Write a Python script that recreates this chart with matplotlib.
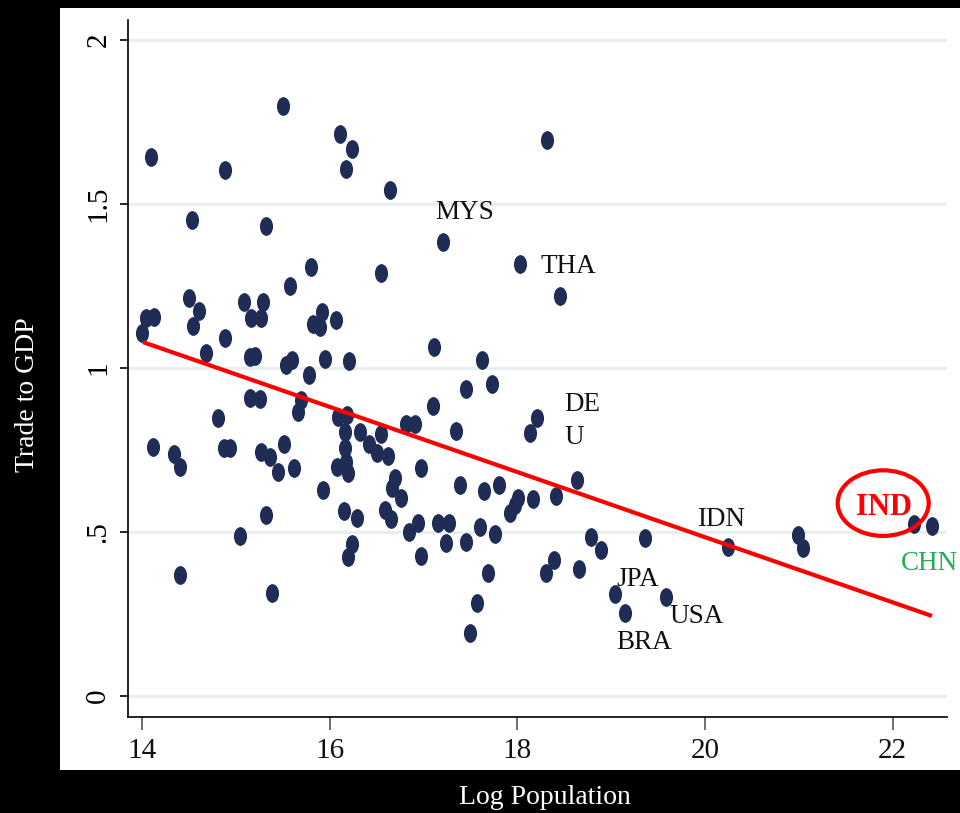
import numpy as np
import matplotlib
matplotlib.use("Agg")
import matplotlib.pyplot as plt
from matplotlib.path import Path
from matplotlib.patches import Ellipse, Rectangle

plt.rcParams['font.family'] = ['Liberation Serif', 'DejaVu Serif']

# log population (x) and trade/GDP (y)
log_pop = [
    15.50, 14.10, 14.885, 16.111, 16.239, 16.175, 18.318, 16.644, 14.533, 15.322,
    17.209, 15.802, 18.030, 16.548, 18.456, 15.578, 14.501, 14.608, 14.043, 14.128,
    14.000, 14.544, 15.087, 15.290, 15.162, 15.269, 15.919, 15.823, 15.898, 16.068,
    14.885, 14.682, 15.151, 15.205, 15.535, 15.599, 15.780, 15.951, 16.207, 17.113,
    17.625, 17.731, 17.454, 15.151, 15.258, 15.695, 15.663, 14.810, 17.102, 16.090,
    16.186, 16.164, 16.164, 16.175, 16.079, 16.196, 16.324, 16.420, 16.505, 16.548,
    16.623, 16.814, 16.910, 17.348, 16.974, 16.697, 16.665, 16.761, 15.930, 17.390,
    16.154, 16.292, 16.591, 16.655, 16.942, 16.846, 17.156, 17.273, 17.241, 17.454,
    17.604, 16.239, 16.196, 16.974, 18.211, 18.136, 17.646, 17.806, 18.009, 17.977,
    17.923, 18.168, 18.414, 18.638, 17.763, 18.787, 18.894, 18.392, 18.307, 18.659,
    17.689, 17.571, 17.497, 14.117, 14.341, 14.405, 14.874, 14.938, 15.269, 15.365,
    15.514, 15.450, 15.620, 15.322, 15.045, 14.405, 15.386, 19.043, 19.149, 19.586,
    19.363, 20.248, 20.994, 21.047, 22.230, 22.422,
]
trade_gdp = [
    1.799, 1.643, 1.604, 1.713, 1.668, 1.607, 1.695, 1.543, 1.451, 1.433,
    1.384, 1.308, 1.317, 1.290, 1.220, 1.250, 1.213, 1.174, 1.152, 1.155,
    1.107, 1.128, 1.201, 1.201, 1.152, 1.152, 1.171, 1.134, 1.125, 1.146,
    1.091, 1.046, 1.034, 1.037, 1.009, 1.024, 0.979, 1.027, 1.021, 1.064,
    1.024, 0.951, 0.936, 0.909, 0.905, 0.902, 0.866, 0.848, 0.884, 0.851,
    0.857, 0.805, 0.756, 0.713, 0.698, 0.680, 0.805, 0.768, 0.741, 0.799,
    0.732, 0.829, 0.829, 0.808, 0.695, 0.665, 0.634, 0.604, 0.628, 0.643,
    0.564, 0.543, 0.567, 0.540, 0.527, 0.500, 0.527, 0.527, 0.466, 0.470,
    0.515, 0.463, 0.424, 0.427, 0.848, 0.802, 0.625, 0.643, 0.604, 0.582,
    0.558, 0.601, 0.610, 0.659, 0.494, 0.485, 0.445, 0.415, 0.375, 0.387,
    0.375, 0.284, 0.192, 0.759, 0.738, 0.698, 0.756, 0.756, 0.744, 0.729,
    0.768, 0.683, 0.695, 0.552, 0.488, 0.369, 0.314, 0.311, 0.253, 0.302,
    0.482, 0.454, 0.491, 0.451, 0.524, 0.518,
]

# fitted line end points
fit_x = [14.01, 22.42]
fit_y = [1.079, 0.244]

# country labels: text, x, y
labels = ['MYS', 'THA', 'DE\nU', 'IDN', 'JPA', 'USA', 'BRA']
label_x = [17.44, 18.54, 18.50, 20.17, 19.28, 19.91, 19.35]
label_y = [1.473, 1.308, 0.838, 0.537, 0.354, 0.241, 0.162]

x_ticks = [14, 16, 18, 20, 22]
y_ticks = [0, 0.5, 1, 1.5, 2]
y_ticklabels = ['0', '.5', '1', '1.5', '2']

W, H = 960, 813
fig = plt.figure(figsize=(W / 100, H / 100), dpi=100, facecolor='black')
# white panel behind the plot
panel = Rectangle((60 / W, 1 - 770 / H), 900 / W, 762 / H,
                  transform=fig.transFigure, facecolor='white',
                  edgecolor='none', zorder=-10)
fig.patches.append(panel)

ax = fig.add_axes([128 / W, 1 - 717 / H, (947 - 128) / W, (717 - 20) / H])
ax.set_facecolor('white')
ax.set_zorder(1)

# tall oval marker like Stata
circ = Path.unit_circle()
oval = Path(circ.vertices * np.array([0.70, 1.0]), circ.codes)

ax.plot(log_pop, trade_gdp, linestyle='none', marker=oval, markersize=13.5,
        color='#1f2d56', markeredgewidth=0, zorder=3)
ax.plot(fit_x, fit_y, color='#ff0000', linewidth=3, zorder=4, solid_capstyle='butt')

for t, x, y in zip(labels, label_x, label_y):
    ax.text(x, y, t, fontsize=19.5, color='#111111', ha='left' if '\n' in t else 'center',
            va='center', linespacing=1.45, zorder=5)

ax.text(21.91, 0.575, 'IND', fontsize=22, color='#ff0000', fontweight='bold',
        ha='center', va='center', zorder=5)
ax.add_patch(Ellipse((21.90, 0.588), 0.97, 0.20, fill=False, edgecolor='#ff0000',
                     linewidth=3, zorder=5))
ax.text(22.09, 0.405, 'CHN', fontsize=19.5, color='#1fae55', ha='left', va='center',
        clip_on=False, zorder=5)

ax.set_xlim(13.85, 22.58)
ax.set_ylim(-0.064, 2.061)
ax.set_xticks(x_ticks)
ax.set_xticklabels([str(v) for v in x_ticks])
ax.set_yticks(y_ticks)
ax.set_yticklabels(y_ticklabels, rotation=90, va='center')

for v in y_ticks:
    ax.axhline(v, color='#e8eff1', linewidth=2.2, zorder=1)

for s in ['top', 'right']:
    ax.spines[s].set_visible(False)
ax.spines['left'].set_linewidth(1.2)
ax.spines['bottom'].set_linewidth(1.2)
ax.tick_params(axis='y', length=6, width=1.2, pad=6, labelsize=21, colors='black')
ax.tick_params(axis='x', length=9, width=1.2, pad=6, labelsize=21, colors='#111111')
ax.tick_params(axis='x', color='#555555')

fig.text(28 / W, 1 - 395 / H, 'Trade to GDP', rotation=90, color='white',
         fontsize=20, ha='center', va='center')
fig.text(545 / W, 1 - 797 / H, 'Log Population', color='white',
         fontsize=20, ha='center', va='center')

fig.savefig('out.png', dpi=100, facecolor='black')
